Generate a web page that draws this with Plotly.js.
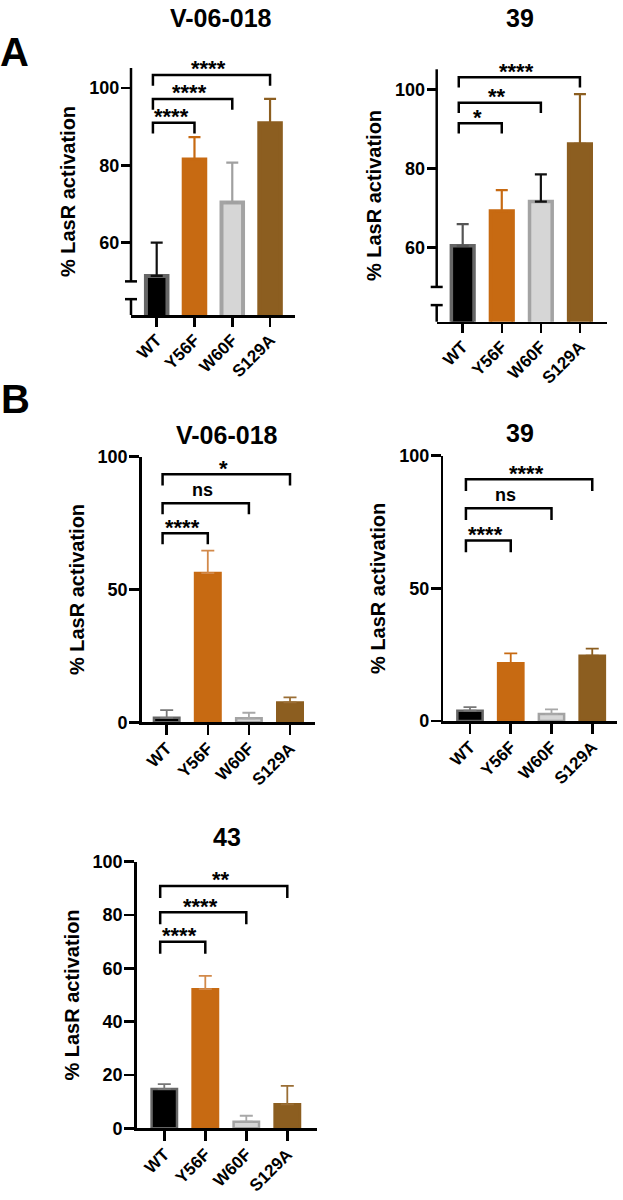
<!DOCTYPE html>
<html><head><meta charset="utf-8">
<script src="https://cdn.plot.ly/plotly-3.0.1.min.js"></script>
<style>html,body{margin:0;padding:0;background:#fff}</style>
</head><body><div id="chart" style="width:623px;height:1200px"></div>
<script>
// ---------- data ----------
const categories = ['WT', 'Y56F', 'W60F', 'S129A'];

const aV06Mean = [51.4, 81.5, 70.4, 90.9];
const aV06Err  = [8.6, 5.8, 10.3, 6.3];
const a39Mean  = [60.4, 69.2, 71.6, 86.2];
const a39Err   = [5.5, 5.3, 6.9, 12.6];
const bV06Mean = [1.7, 56.2, 1.5, 7.5];
const bV06Err  = [2.9, 8.4, 2.1, 1.9];
const b39Mean  = [3.9, 21.8, 2.6, 24.6];
const b39Err   = [1.3, 3.7, 1.8, 2.7];
const b43Mean  = [14.7, 52.2, 2.5, 9.0];
const b43Err   = [1.9, 5.0, 2.2, 6.9];

const comparisons = [[0, 1], [0, 2], [0, 3]];
const aV06Sig = ['****', '****', '****'];
const a39Sig  = ['*', '**', '****'];
const bV06Sig = ['****', 'ns', '*'];
const b39Sig  = ['****', 'ns', '****'];
const b43Sig  = ['****', '****', '**'];

const yTicksA   = [60, 80, 100];
const yTicksB   = [0, 50, 100];
const yTicksB43 = [0, 20, 40, 60, 80, 100];

const panelTitles = ['V-06-018', '39', 'V-06-018', '39', '43'];
const panelLetters = ['A', 'B'];
const yTitle = '% LasR activation';

// ---------- styles ----------
const W = 623, H = 1200;
const FONT = 'Liberation Sans, Arial, Helvetica, sans-serif';
const fillC    = ['#000000', '#C76A12', '#D6D6D6', '#8C5E20'];
const outlineC = ['#666666', '#C76A12', '#A3A3A3', '#8C5E20'];

const panels = [
  {mean: aV06Mean, err: aV06Err, sig: aV06Sig, ticks: yTicksA,
   xd: [131, 295], yd: [68, 315], xr: [-0.68, 3.66], yr: [41.3, 105.2], brk: [45.4, 50],
   levels: [91.05, 97.18, 103.39], drop: 2.8, barW: 0.57, lw: 4, et: 2.2, ew: 6,
   errC: ['#111111', '#C76A12', '#A0A0A0', '#8C5E20'], ticklen: 9, title: [221, 18]},
  {mean: a39Mean, err: a39Err, sig: a39Sig, ticks: yTicksA,
   xd: [436.7, 607.3], yd: [69.3, 321.7], xr: [-0.665, 3.70], yr: [41.2, 105.1], brk: [45.4, 50],
   levels: [91.43, 96.64, 103.07], drop: 2.6, barW: 0.58, lw: 3.5, et: 2.2, ew: 6,
   errC: ['#555555', '#C76A12', '#111111', '#8C5E20'], ticklen: 9, title: [520, 18]},
  {mean: bV06Mean, err: bV06Err, sig: bV06Sig, ticks: yTicksB,
   xd: [141.7, 315], yd: [456.7, 722.3], xr: [-0.608, 3.608], yr: [0, 100], brk: null,
   levels: [71.2, 82.5, 93.4], drop: 4.2, barW: 0.62, lw: 2.5, et: 1.8, ew: 6.5,
   errC: ['#777777', '#D2894A', '#A8A8A8', '#9A6E35'], ticklen: 10, title: [227, 435]},
  {mean: b39Mean, err: b39Err, sig: b39Sig, ticks: yTicksB,
   xd: [443.3, 616.7], yd: [455.7, 721], xr: [-0.655, 3.60], yr: [0, 100], brk: null,
   levels: [68.0, 80.2, 91.1], drop: 4.4, barW: 0.62, lw: 2.5, et: 1.8, ew: 6.5,
   errC: ['#777777', '#C76A12', '#A8A8A8', '#8C5E20'], ticklen: 10, title: [520, 433]},
  {mean: b43Mean, err: b43Err, sig: b43Sig, ticks: yTicksB43,
   xd: [136.7, 316.7], yd: [861.7, 1128.3], xr: [-0.673, 3.717], yr: [0, 100], brk: null,
   levels: [70.0, 81.0, 90.9], drop: 4.5, barW: 0.62, lw: 2.5, et: 1.8, ew: 6.5,
   errC: ['#777777', '#D2894A', '#A8A8A8', '#9A6E35'], ticklen: 10, title: [227, 837]}
];

const traces = [];
const shapes = [];
const annotations = [];
const layout = {
  width: W, height: H, margin: {l: 0, r: 0, t: 0, b: 0},
  paper_bgcolor: '#ffffff', plot_bgcolor: '#ffffff',
  showlegend: false, barmode: 'overlay',
  font: {family: FONT, color: '#000000'}
};

panels.forEach((p, k) => {
  const sfx = k === 0 ? '' : String(k + 1);
  const xa = 'x' + sfx, ya = 'y' + sfx;
  const xKey = 'xaxis' + sfx, yKey = 'yaxis' + sfx;

  layout[xKey] = {
    domain: [p.xd[0] / W, p.xd[1] / W], range: p.xr, anchor: ya,
    tickmode: 'array', tickvals: categories.map((c, i) => i), ticktext: categories,
    tickangle: -45, ticks: 'outside', ticklen: p.ticklen, tickwidth: 2.5, tickcolor: '#000',
    showline: true, linewidth: 2.5, linecolor: '#000', showgrid: false, zeroline: false,
    ticklabelstandoff: -3,
    tickfont: {family: FONT, size: 17, weight: 'bold', color: '#000'}, fixedrange: true
  };
  layout[yKey] = {
    domain: [1 - p.yd[1] / H, 1 - p.yd[0] / H], range: p.yr, anchor: xa,
    tickmode: 'array', tickvals: p.ticks, ticks: 'outside', ticklen: p.ticklen, tickwidth: 2.5,
    tickcolor: '#000', showline: !p.brk, linewidth: 2.5, linecolor: '#000',
    showgrid: false, zeroline: false, ticklabelstandoff: -2,
    tickfont: {family: FONT, size: 18, weight: 'bold', color: '#000'},
    title: {text: yTitle, font: {family: FONT, size: 20, weight: 'bold', color: '#000'}, standoff: 8},
    fixedrange: true
  };

  categories.forEach((c, i) => {
    traces.push({
      type: 'bar', name: c, x: [i], y: [p.mean[i]], xaxis: xa, yaxis: ya, width: p.barW,
      marker: {color: fillC[i], line: {color: outlineC[i], width: p.lw}},
      error_y: {type: 'data', symmetric: false, array: [p.err[i]], arrayminus: [0],
                color: p.errC[i], thickness: p.et, width: p.ew},
      hoverinfo: 'skip', showlegend: false
    });
  });

  // broken y axis (panel A)
  if (p.brk) {
    const f = v => (v - p.yr[0]) / (p.yr[1] - p.yr[0]);
    const half = 6 / (p.xd[1] - p.xd[0]);
    const ln = {color: '#000', width: 2.5};
    shapes.push({type: 'line', xref: xa + ' domain', yref: ya + ' domain', x0: 0, x1: 0, y0: 0, y1: f(p.brk[0]), line: ln});
    shapes.push({type: 'line', xref: xa + ' domain', yref: ya + ' domain', x0: 0, x1: 0, y0: f(p.brk[1]), y1: 1, line: ln});
    p.brk.forEach(b => shapes.push({type: 'line', xref: xa + ' domain', yref: ya + ' domain',
      x0: -half, x1: half, y0: f(b), y1: f(b), line: ln}));
  }

  // significance brackets
  comparisons.forEach((pair, j) => {
    const x0 = pair[0] - 0.1, x1 = pair[1];
    const hi = p.levels[j], lo = hi - p.drop;
    const isNs = p.sig[j] === 'ns';
    shapes.push({type: 'path', xref: xa, yref: ya,
      path: `M${x0},${lo} L${x0},${hi} L${x1},${hi} L${x1},${lo}`,
      line: {color: '#000', width: 2.5}});
    annotations.push({xref: xa, yref: ya, x: (x0 + x1) / 2 - 0.07, y: hi, yanchor: 'middle',
      xanchor: 'center', yshift: isNs ? 13 : 6, showarrow: false, text: p.sig[j],
      font: {family: FONT, size: isNs ? 18 : 22, weight: 'bold', color: '#000'}});
  });

  annotations.push({xref: 'paper', yref: 'paper', x: p.title[0] / W, y: 1 - p.title[1] / H,
    xanchor: 'center', yanchor: 'middle', showarrow: false, text: panelTitles[k],
    font: {family: FONT, size: 25, weight: 'bold', color: '#000'}});
});

annotations.push({xref: 'paper', yref: 'paper', x: 14 / W, y: 1 - 52 / H, xanchor: 'center', yanchor: 'middle',
  showarrow: false, text: panelLetters[0], font: {family: FONT, size: 40, weight: 'bold', color: '#000'}});
annotations.push({xref: 'paper', yref: 'paper', x: 15.5 / W, y: 1 - 399 / H, xanchor: 'center', yanchor: 'middle',
  showarrow: false, text: panelLetters[1], font: {family: FONT, size: 40, weight: 'bold', color: '#000'}});

layout.shapes = shapes;
layout.annotations = annotations;

Plotly.newPlot('chart', traces, layout, {staticPlot: true, displayModeBar: false});
</script>
</body></html>
